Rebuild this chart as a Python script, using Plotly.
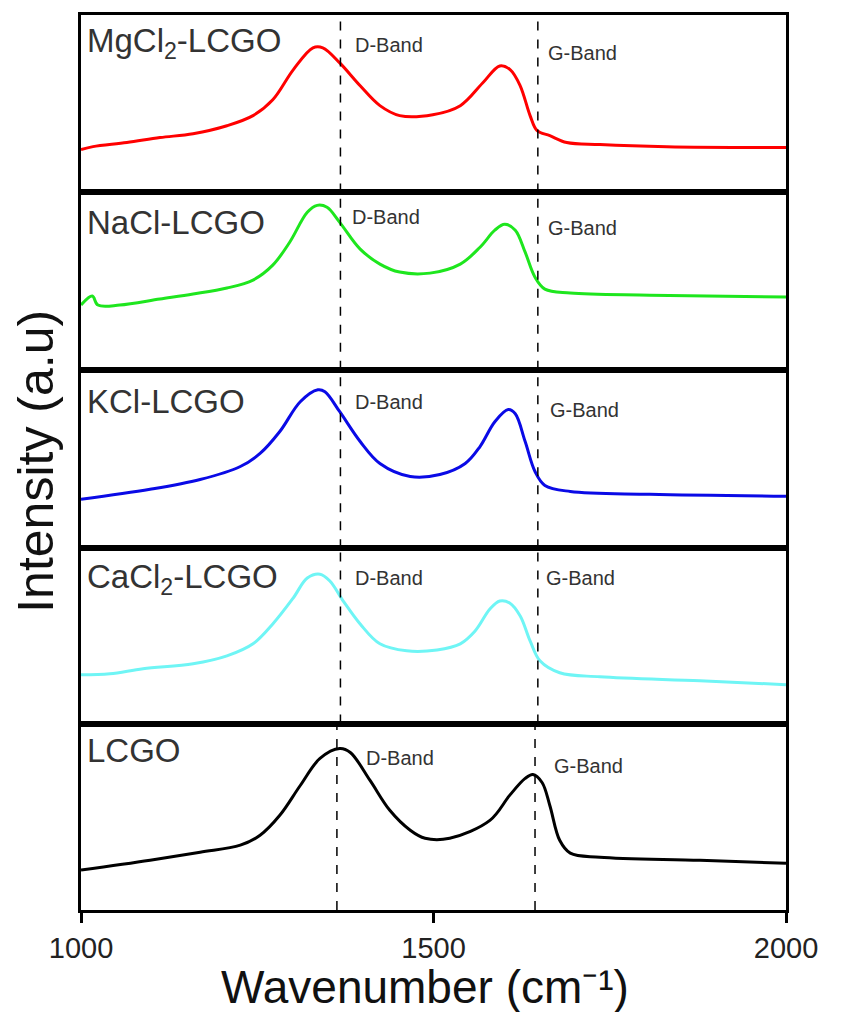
import plotly.graph_objects as go
from plotly.subplots import make_subplots

# Raman spectra (intensity in a.u., each panel scaled 0..1)
wn_mgcl2 = [1000, 1017, 1065, 1112, 1159, 1207, 1244, 1272, 1301, 1329, 1343, 1367, 1396, 1424, 1452,
            1499, 1538, 1570, 1594, 1609, 1623, 1637, 1647, 1665, 1689, 1736, 1831, 2000]
int_mgcl2 = [0.242, 0.258, 0.281, 0.309, 0.331, 0.376, 0.433, 0.522, 0.691, 0.815, 0.815, 0.730, 0.601,
             0.489, 0.433, 0.438, 0.489, 0.618, 0.713, 0.691, 0.601, 0.433, 0.348, 0.320, 0.281,
             0.270, 0.258, 0.253]

wn_nacl = [1000, 1016, 1024, 1055, 1112, 1159, 1207, 1244, 1272, 1296, 1321, 1335, 1349, 1367, 1396,
           1424, 1452, 1495, 1538, 1566, 1587, 1601, 1616, 1630, 1644, 1658, 1694, 1807, 2000]
int_nacl = [0.365, 0.416, 0.365, 0.365, 0.399, 0.427, 0.461, 0.506, 0.590, 0.719, 0.888, 0.927, 0.916,
            0.831, 0.680, 0.596, 0.551, 0.545, 0.596, 0.691, 0.787, 0.820, 0.787, 0.663, 0.522, 0.455,
            0.433, 0.421, 0.410]

wn_kcl = [1000, 1098, 1169, 1226, 1254, 1282, 1311, 1336, 1346, 1367, 1396, 1424, 1467, 1509, 1545,
          1566, 1587, 1606, 1616, 1630, 1644, 1658, 1694, 1807, 2000]
int_kcl = [0.274, 0.330, 0.385, 0.458, 0.531, 0.654, 0.821, 0.888, 0.877, 0.765, 0.598, 0.475, 0.402,
           0.413, 0.475, 0.570, 0.709, 0.777, 0.754, 0.598, 0.430, 0.352, 0.318, 0.302, 0.291]

wn_cacl2 = [1000, 1041, 1088, 1159, 1207, 1244, 1272, 1301, 1321, 1339, 1353, 1372, 1396, 1424, 1462,
            1505, 1538, 1559, 1580, 1594, 1608, 1623, 1637, 1651, 1679, 1736, 1878, 2000]
int_cacl2 = [0.278, 0.284, 0.313, 0.341, 0.386, 0.455, 0.568, 0.716, 0.830, 0.852, 0.813, 0.699, 0.568,
             0.455, 0.415, 0.420, 0.455, 0.528, 0.653, 0.699, 0.688, 0.614, 0.472, 0.358, 0.290, 0.267,
             0.244, 0.222]

wn_lcgo = [1000, 1098, 1169, 1226, 1254, 1282, 1311, 1339, 1367, 1382, 1410, 1438, 1467, 1488, 1523,
           1580, 1608, 1630, 1641, 1654, 1665, 1679, 1694, 1736, 1878, 2000]
int_lcgo = [0.214, 0.267, 0.310, 0.348, 0.401, 0.508, 0.668, 0.813, 0.866, 0.845, 0.695, 0.535, 0.428,
            0.385, 0.385, 0.481, 0.615, 0.706, 0.727, 0.684, 0.561, 0.374, 0.305, 0.283, 0.267,
            0.251]

sample_names = ["MgCl<sub>2</sub>-LCGO", "NaCl-LCGO", "KCl-LCGO", "CaCl<sub>2</sub>-LCGO", "LCGO"]
wavenumbers = [wn_mgcl2, wn_nacl, wn_kcl, wn_cacl2, wn_lcgo]
intensities = [int_mgcl2, int_nacl, int_kcl, int_cacl2, int_lcgo]
line_colors = ["#ff0000", "#1ee61e", "#0a0ae6", "#6ff5f5", "#000000"]

# band positions marked in each panel (cm-1)
d_band = [1368, 1368, 1368, 1368, 1363]
g_band = [1648, 1648, 1648, 1648, 1644]

# label placement per panel: (name y, D x, D y, G x, G y)
label_pos = [
    (0.843, 1386, 0.831, 1660, 0.787),
    (0.831, 1382, 0.860, 1660, 0.798),
    (0.821, 1386, 0.821, 1663, 0.777),
    (0.824, 1386, 0.830, 1657, 0.830),
    (0.856, 1402, 0.818, 1668, 0.775),
]

fig = make_subplots(rows=5, cols=1, shared_xaxes=True, vertical_spacing=0,
                    row_heights=[178, 178, 179, 176, 187])

for i in range(5):
    r = i + 1
    xr = f"x{r}" if r > 1 else "x"
    yr = f"y{r}" if r > 1 else "y"
    fig.add_trace(go.Scatter(x=wavenumbers[i], y=intensities[i], mode="lines",
                             line=dict(color=line_colors[i], width=3, shape="spline", smoothing=1.0),
                             showlegend=False, hoverinfo="skip"), row=r, col=1)
    for xb in (d_band[i], g_band[i]):
        fig.add_shape(type="line", x0=xb, x1=xb, y0=0, y1=1, xref=xr, yref=f"{yr} domain",
                      line=dict(color="black", width=1.5, dash="dash"))
    ny, dx, dy, gx, gy = label_pos[i]
    fig.add_annotation(x=1005, y=ny, xref=xr, yref=yr, text=sample_names[i], showarrow=False,
                       xanchor="left", yanchor="middle",
                       font=dict(family="Liberation Sans, Arial", size=33, color="#333333"))
    fig.add_annotation(x=dx, y=dy, xref=xr, yref=yr, text="D-Band", showarrow=False,
                       xanchor="left", yanchor="middle",
                       font=dict(family="Liberation Sans, Arial", size=20, color="#333333"))
    fig.add_annotation(x=gx, y=gy, xref=xr, yref=yr, text="G-Band", showarrow=False,
                       xanchor="left", yanchor="middle",
                       font=dict(family="Liberation Sans, Arial", size=20, color="#333333"))
    fig.update_yaxes(range=[0, 1], showline=True, mirror=True, linecolor="black", linewidth=2.5,
                     showticklabels=False, ticks="", showgrid=False, zeroline=False, row=r, col=1)
    fig.update_xaxes(range=[1000, 2000], showline=True, mirror=True, linecolor="black", linewidth=2.5,
                     showgrid=False, zeroline=False, row=r, col=1)

fig.update_xaxes(tickvals=[1000, 1500, 2000], ticks="outside", ticklen=10, tickwidth=3,
                 tickcolor="black", showticklabels=True,
                 tickfont=dict(family="Liberation Sans, Arial", size=29, color="#222222"),
                 row=5, col=1)
for r in range(1, 5):
    fig.update_xaxes(ticks="", showticklabels=False, row=r, col=1)

fig.add_annotation(x=-0.065, y=0.501, xref="paper", yref="paper", text="Intensity (a.u)",
                   textangle=-90, showarrow=False, xanchor="center", yanchor="middle",
                   font=dict(family="Liberation Sans, Arial", size=50, color="#111111"))
fig.add_annotation(x=0.488, y=-0.086, xref="paper", yref="paper",
                   text="Wavenumber (cm\u207b\u00b9)", showarrow=False,
                   xanchor="center", yanchor="middle",
                   font=dict(family="Liberation Sans, Arial", size=46, color="#111111"))

fig.update_layout(width=843, height=1012, margin=dict(l=81, r=57, t=12, b=102),
                  paper_bgcolor="white", plot_bgcolor="white")

fig.write_html("out.html")
